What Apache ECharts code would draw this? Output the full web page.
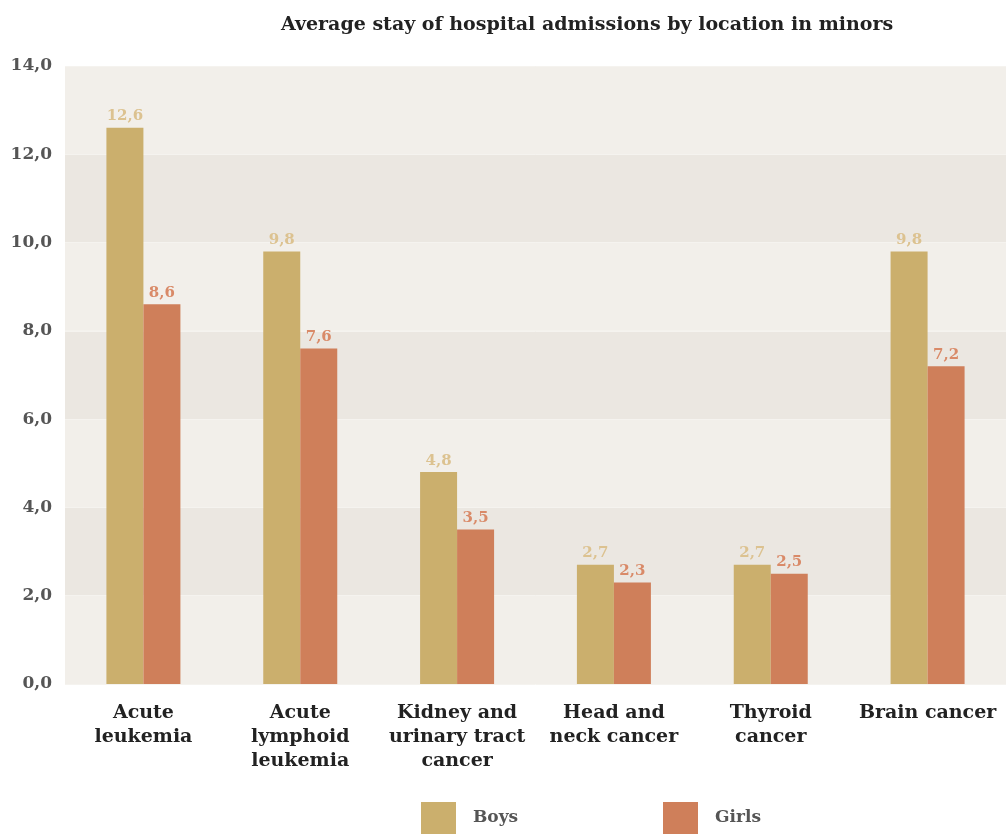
<!DOCTYPE html>
<html>
<head>
<meta charset="utf-8">
<script src="https://cdn.jsdelivr.net/npm/echarts@6/dist/echarts.min.js"></script>
<style>
  html, body { margin: 0; padding: 0; background: #ffffff; }
  #chart { width: 1006px; height: 834px; }
</style>
</head>
<body>
<div id="chart"></div>
<script>
// Average length of stay (days) per tumour location, by sex
const categories = [
  'Acute\nleukemia',
  'Acute\nlymphoid\nleukemia',
  'Kidney and\nurinary tract\ncancer',
  'Head and\nneck cancer',
  'Thyroid\ncancer',
  'Brain cancer'
];
const boys = [12.6, 9.8, 4.8, 2.7, 2.7, 9.8];
const girls = [8.6, 7.6, 3.5, 2.3, 2.5, 7.2];
const yTicks = [0, 2, 4, 6, 8, 10, 12, 14];

const FONT = '"DejaVu Serif", "Liberation Serif", serif';
const commaFmt = v => Number(v).toFixed(1).replace('.', ',');

const chart = echarts.init(document.getElementById('chart'), null, { renderer: 'canvas' });

const legendText = { fontFamily: FONT, fontWeight: 'bold', fontSize: 17, color: '#555555', padding: [14, 0, 0, 12] };

chart.setOption({
  animation: false,
  backgroundColor: '#ffffff',
  title: {
    text: 'Average stay of hospital admissions by location in minors',
    left: 281,
    top: 16,
    padding: 0,
    textStyle: { fontFamily: FONT, fontWeight: 'bold', fontSize: 19, color: '#222222' }
  },
  legend: [
    {
      data: ['Boys'],
      left: 421, top: 802, padding: 0,
      itemWidth: 35, itemHeight: 32, icon: 'rect',
      textStyle: legendText
    },
    {
      data: ['Girls'],
      left: 663, top: 802, padding: 0,
      itemWidth: 35, itemHeight: 32, icon: 'rect',
      textStyle: legendText
    }
  ],
  grid: { left: 65, right: 0, top: 66, bottom: 150, containLabel: false },
  xAxis: {
    type: 'category',
    data: categories,
    axisLine: { show: false },
    axisTick: { show: false },
    axisLabel: {
      interval: 0,
      margin: 17,
      fontFamily: FONT,
      fontWeight: 'bold',
      fontSize: 19,
      lineHeight: 24,
      color: '#222222'
    }
  },
  yAxis: {
    type: 'value',
    min: yTicks[0],
    max: yTicks[yTicks.length - 1],
    interval: yTicks[1] - yTicks[0],
    axisLine: { show: false },
    axisTick: { show: false },
    splitLine: { show: true, lineStyle: { color: '#f5f3ef', width: 1 } },
    splitArea: { show: true, areaStyle: { color: ['#f2efea', '#ebe7e1'] } },
    axisLabel: {
      margin: 13,
      formatter: commaFmt,
      fontFamily: FONT,
      fontWeight: 'bold',
      fontSize: 17,
      padding: [6, 0, 0, 0],
      color: '#555555'
    }
  },
  series: [
    {
      name: 'Boys',
      type: 'bar',
      data: boys,
      barWidth: 37,
      barGap: '0%',
      itemStyle: { color: '#cbaf6d' },
      label: {
        show: true,
        position: 'top',
        distance: 4,
        formatter: p => commaFmt(p.value),
        fontFamily: FONT,
        fontWeight: 'bold',
        fontSize: 15,
        color: '#dcc290'
      }
    },
    {
      name: 'Girls',
      type: 'bar',
      data: girls,
      barWidth: 37,
      itemStyle: { color: '#cf7f5a' },
      label: {
        show: true,
        position: 'top',
        distance: 4,
        formatter: p => commaFmt(p.value),
        fontFamily: FONT,
        fontWeight: 'bold',
        fontSize: 15,
        color: '#d98a68'
      }
    }
  ]
});
</script>
</body>
</html>
